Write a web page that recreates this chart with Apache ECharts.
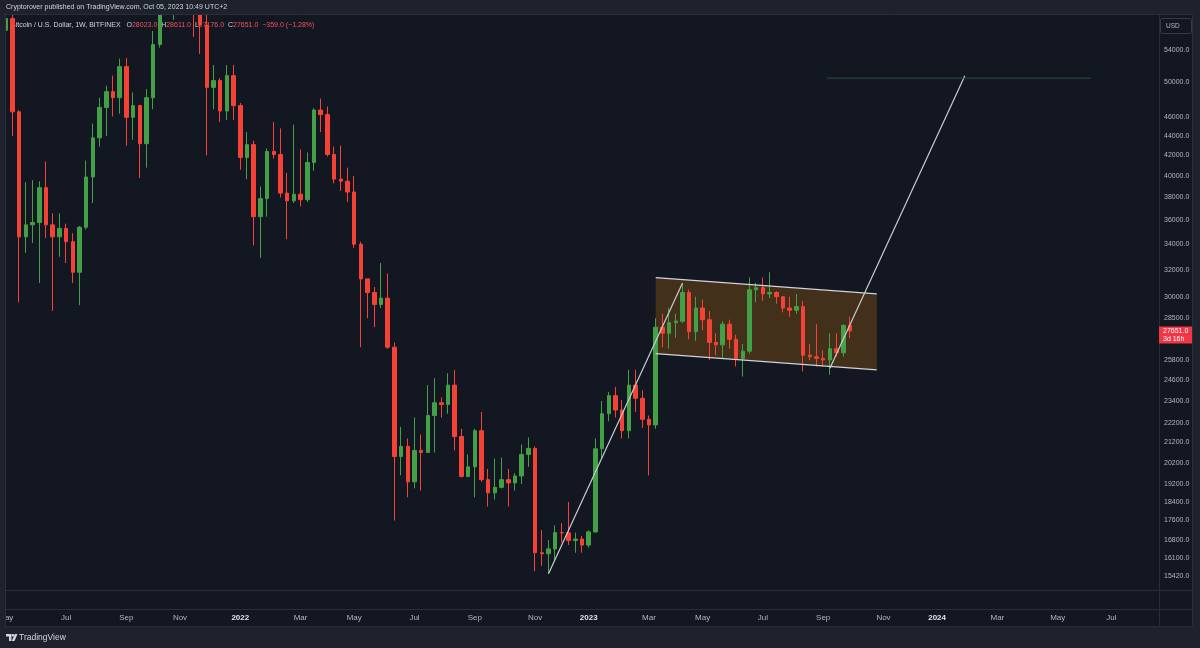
<!DOCTYPE html>
<html><head><meta charset="utf-8">
<script src="https://cdn.jsdelivr.net/npm/echarts@6/dist/echarts.min.js"></script>
<style>html,body{margin:0;padding:0;background:#1e222d;}#c{width:1200px;height:648px;}</style>
</head><body><div id="c"></div>
<script>
// ---- data (weekly candles, BITFINEX BTC/USD) ----
const weeks = [
 '2021-05-03','2021-05-10','2021-05-17','2021-05-24','2021-05-31','2021-06-07','2021-06-14','2021-06-21','2021-06-28','2021-07-05','2021-07-12','2021-07-19','2021-07-26','2021-08-02','2021-08-09','2021-08-16','2021-08-23','2021-08-30','2021-09-06','2021-09-13','2021-09-20','2021-09-27','2021-10-04','2021-10-11','2021-10-18','2021-10-25','2021-11-01','2021-11-08','2021-11-15','2021-11-22','2021-11-29','2021-12-06','2021-12-13','2021-12-20','2021-12-27',
 '2022-01-03','2022-01-10','2022-01-17','2022-01-24','2022-01-31','2022-02-07','2022-02-14','2022-02-21','2022-02-28','2022-03-07','2022-03-14','2022-03-21','2022-03-28','2022-04-04','2022-04-11','2022-04-18','2022-04-25','2022-05-02','2022-05-09','2022-05-16','2022-05-23','2022-05-30','2022-06-06','2022-06-13','2022-06-20','2022-06-27','2022-07-04','2022-07-11','2022-07-18','2022-07-25','2022-08-01','2022-08-08','2022-08-15','2022-08-22','2022-08-29','2022-09-05','2022-09-12','2022-09-19','2022-09-26','2022-10-03','2022-10-10','2022-10-17','2022-10-24','2022-10-31','2022-11-07','2022-11-14','2022-11-21','2022-11-28','2022-12-05','2022-12-12','2022-12-19','2022-12-26',
 '2023-01-02','2023-01-09','2023-01-16','2023-01-23','2023-01-30','2023-02-06','2023-02-13','2023-02-20','2023-02-27','2023-03-06','2023-03-13','2023-03-20','2023-03-27','2023-04-03','2023-04-10','2023-04-17','2023-04-24','2023-05-01','2023-05-08','2023-05-15','2023-05-22','2023-05-29','2023-06-05','2023-06-12','2023-06-19','2023-06-26','2023-07-03','2023-07-10','2023-07-17','2023-07-24','2023-07-31','2023-08-07','2023-08-14','2023-08-21','2023-08-28','2023-09-04','2023-09-11','2023-09-18','2023-09-25','2023-10-02'
];
const open = [
 56600,58200,46600,34600,35600,35800,38900,35600,34600,35300,34200,31800,35400,39900,43800,47100,48900,48200,51900,46000,47300,43200,48200,54700,61500,60900,61300,63300,65500,59000,57300,49400,50200,46700,50800,
 47300,41800,43100,36300,37900,42400,42100,38400,37700,38300,37800,41300,46800,46300,42100,39700,39500,38500,34000,31300,30300,29450,29900,26600,20500,21000,19300,20800,20700,22600,23300,23200,24300,21500,19550,20000,21800,19400,18800,19050,19400,19250,19570,20600,20900,16300,16260,16450,17100,17090,16780,16840,
 16600,17130,20880,22700,23700,22900,21800,24300,23550,22400,22100,27900,27500,28200,28300,30300,27600,29200,28400,26900,26750,28100,27100,25900,26350,30500,30650,30200,30300,30000,29200,29050,29300,26100,26000,25900,25800,26500,26250,28023
];
const high = [
 59500,59600,46800,39400,39600,39500,41400,36600,36600,35700,34900,35500,41500,45300,48200,49600,50800,52900,53000,48800,47400,49200,56500,62900,67000,63700,64300,69000,66400,59400,59200,52100,50500,52100,52100,
 47600,44400,43500,39000,42700,45500,44800,40300,45200,42600,42300,47000,48100,47200,42900,43000,40800,40000,34200,31300,30700,32500,31700,26900,22000,21400,22500,21600,24300,24700,23600,25000,25200,21900,20600,21900,22800,19900,20400,20450,19900,19700,21100,21450,21000,17200,16800,17400,17500,18400,17100,16970,
 17200,21400,23400,23900,24200,23450,25200,25200,24000,22600,28500,28800,29200,28800,31000,30500,30000,29800,29000,27500,28300,28400,27400,26800,31400,31000,31400,31800,30400,30000,30000,30200,29700,26800,28100,26400,27500,27500,28100,28611
];
const low = [
 53000,44000,29600,33300,34100,31000,34500,29000,33000,32500,31000,29400,35200,37500,42900,44000,46100,46400,43000,43600,39800,40800,46900,54300,59700,58000,59400,62300,55700,53500,42000,46900,45500,45700,45700,
 40600,39700,33900,32900,36300,41700,38000,34400,37500,37200,37600,40500,44400,41900,39300,38600,37600,33700,26600,28500,27900,29200,26500,17600,19600,18600,19000,18900,20700,20700,22500,22700,20800,19500,19500,18600,19300,18200,18500,19000,18200,18900,19200,20000,15600,15800,15500,16000,16700,16600,16300,16300,
 16500,17100,20400,22300,22500,21400,21400,22800,21950,19600,21900,26600,26500,27200,28200,27100,27000,27700,25800,26100,25900,26500,25400,24800,26200,29600,29700,29900,29500,28900,28600,28800,25100,25800,25400,25400,24900,26000,26000,27176
];
const close = [
 58200,46600,34600,35600,35800,38900,35600,34600,35300,34200,31800,35400,39900,43800,47100,48900,48200,51900,46000,47300,43200,48200,54700,61500,60900,61300,63300,65500,59000,57300,49400,50200,46700,50800,47300,
 41800,43100,36300,37900,42400,42100,38400,37700,38300,37800,41300,46800,46300,42100,39700,39500,38500,34000,31300,30300,29450,29900,26600,20500,21000,19300,20800,20700,22600,23300,23200,24300,21500,19550,20000,21800,19400,18800,19050,19400,19250,19570,20600,20900,16300,16260,16450,17100,17090,16780,16840,16600,
 17130,20880,22700,23700,22900,21800,24300,23550,22400,22100,27900,27500,28200,28300,30300,27600,29200,28400,26900,26750,28100,27100,25900,26350,30500,30650,30200,30300,30000,29200,29050,29300,26100,26000,25900,25800,26500,26250,28010,27651
];
const priceTicks = [54000,50000,46000,44000,42000,40000,38000,36000,34000,32000,30000,28500,25800,24600,23400,22200,21200,20200,19200,18400,17600,16800,16100,15420];
const timeTickDates = ['2021-05-03','2021-07-05','2021-09-06','2021-11-01','2022-01-03','2022-03-07','2022-05-02','2022-07-04','2022-09-05','2022-11-07','2023-01-02','2023-03-06','2023-05-01','2023-07-03','2023-09-04','2023-11-06','2024-01-01','2024-03-04','2024-05-06','2024-07-01'];
const timeTickLabels = ['May','Jul','Sep','Nov','2022','Mar','May','Jul','Sep','Nov','2023','Mar','May','Jul','Sep','Nov','2024','Mar','May','Jul'];
// drawings (date, price)
const trendA = [['2022-11-21',15500],['2023-04-10',31000]];
const trendB = [['2023-09-11',25300],['2024-01-30',50800]];
const targetLine = [['2023-09-08',50500],['2024-06-10',50500]];
const channelTop = [['2023-03-13',31400],['2023-10-30',30200]];
const channelBottom = [['2023-03-13',26200],['2023-10-30',25200]];
const countdown = '3d 16h';

// ---- chart ----
const FONT = "'Liberation Sans',Arial,sans-serif";
const ts = s => Date.parse(s + 'T00:00:00Z');
const WEEK = 7 * 86400000;
const anchor = ts('2021-05-10');
const xMin = anchor - 1.1194 * WEEK, xMax = anchor + 171.269 * WEEK;
const yMin = 14915, yMax = 58836;
const UP = '#43a047', DOWN = '#f44336';
const labelMap = {};
timeTickDates.forEach((d, i) => labelMap[ts(d)] = timeTickLabels[i]);
const candles = weeks.map((d, i) => [ts(d), open[i], close[i], low[i], high[i]]);
const toXY = arr => arr.map(p => [ts(p[0]), p[1]]);
const lineSeries = (arr, color, w) => ({
  type: 'line', data: toXY(arr), symbol: 'none', silent: true, z: 4,
  lineStyle: { color: color, width: w }, animation: false
});

const chart = echarts.init(document.getElementById('c'), null, { renderer: 'canvas' });
const option = {
  backgroundColor: '#1e222d',
  animation: false,
  grid: { left: 5, right: 40, top: 14, bottom: 58, containLabel: false, outerBoundsMode: 'none' },
  xAxis: {
    type: 'value', min: xMin, max: xMax, scale: true,
    axisLine: { show: false }, axisTick: { show: false }, splitLine: { show: false },
    axisLabel: {
      customValues: timeTickDates.map(ts),
      formatter: v => { const l = labelMap[v]; if (!l) return ''; return /^\d{4}$/.test(l) ? '{y|' + l + '}' : l; },
      color: '#b2b5be', fontSize: 8, fontFamily: FONT, margin: 24,
      rich: { y: { color: '#e0e3eb', fontSize: 8, fontWeight: 'bold', fontFamily: FONT } }
    }
  },
  yAxis: {
    type: 'log', logBase: 10, min: yMin, max: yMax, position: 'right',
    axisLine: { show: false }, axisTick: { show: false }, splitLine: { show: false }, axisLabel: { show: false }
  },
  series: [
    {
      type: 'custom', z: 1, silent: true,
      data: [[ts(channelTop[0][0]), channelTop[0][1]]],
      renderItem: (params, api) => {
        const pts = [
          api.coord([ts(channelTop[0][0]), channelTop[0][1]]),
          api.coord([ts(channelTop[1][0]), channelTop[1][1]]),
          api.coord([ts(channelBottom[1][0]), channelBottom[1][1]]),
          api.coord([ts(channelBottom[0][0]), channelBottom[0][1]])
        ];
        return { type: 'polygon', shape: { points: pts }, style: { fill: 'rgba(255,152,0,0.2)' } };
      }
    },
    {
      type: 'candlestick', z: 3, data: candles, barWidth: 4,
      itemStyle: { color: UP, color0: DOWN, borderColor: UP, borderColor0: DOWN, borderWidth: 1 },
      markLine: {
        silent: true, symbol: ['none', 'none'], animation: false,
        lineStyle: { color: 'rgba(0,0,0,0)', width: 1, type: 'solid' },
        label: { show: true, position: 'end', distance: 4, color: '#b2b5be', fontSize: 7, fontFamily: FONT,
                 formatter: p => Number(p.value).toFixed(1) },
        emphasis: { disabled: true },
        data: priceTicks.map(v => ({ yAxis: v }))
      }
    },
    lineSeries(channelTop, '#d1d4dc', 1.2),
    lineSeries(channelBottom, '#d1d4dc', 1.2),
    lineSeries(trendA, '#c9ccd3', 1.2),
    lineSeries(trendB, '#c9ccd3', 1.2),
    lineSeries(targetLine, '#24503f', 1)
  ]
};
chart.setOption(option);

// legend values from the last candle
const n = close.length;
const last = { o: open[n - 1], h: high[n - 1], l: low[n - 1], c: close[n - 1] };
const chg = last.c - close[n - 2];
const pct = chg / close[n - 2] * 100;
const sgn = v => (v < 0 ? '\u2212' : '+');
const py = chart.convertToPixel({ yAxisIndex: 0 }, last.c);
const lc = '#b2b5be';
const gl = '#2a2e39';
const F7 = '7px ' + FONT;
chart.setOption({
  graphic: { elements: [
    { type: 'rect', z: -10, shape: { x: 5, y: 14, width: 1188, height: 613 }, style: { fill: '#131722' } },
    { type: 'line', z: -9, shape: { x1: 1159.5, y1: 14, x2: 1159.5, y2: 627 }, style: { stroke: gl, lineWidth: 1 } },
    { type: 'line', z: -9, shape: { x1: 5, y1: 590.5, x2: 1193, y2: 590.5 }, style: { stroke: gl, lineWidth: 1 } },
    { type: 'line', z: -9, shape: { x1: 5, y1: 609.5, x2: 1193, y2: 609.5 }, style: { stroke: gl, lineWidth: 1 } },
    { type: 'text', z: -8, x: 11, y: 25, style: {
        text: '{t|Bitcoin / U.S. Dollar, 1W, BITFINEX}   {k|O}{v|' + last.o.toFixed(1) + '}  {k|H}{v|' + last.h.toFixed(1) + '}  {k|L}{v|' + last.l.toFixed(1) + '}  {k|C}{v|' + last.c.toFixed(1) + '}  {v|' + sgn(chg) + Math.abs(chg).toFixed(1) + ' (' + sgn(pct) + Math.abs(pct).toFixed(2) + '%)}',
        verticalAlign: 'middle', font: F7,
        rich: { t: { fill: '#d1d4dc', font: F7 }, k: { fill: '#d1d4dc', font: F7 }, v: { fill: '#f7525f', font: F7 } }
    } },
    // covers: header strip and left margin sit above the candles
    { type: 'rect', z: 30, shape: { x: 0, y: 0, width: 1200, height: 14 }, style: { fill: '#1e222d' } },
    { type: 'rect', z: 30, shape: { x: 0, y: 14, width: 5, height: 613 }, style: { fill: '#1e222d' } },
    { type: 'rect', z: 31, shape: { x: 5.5, y: 14.5, width: 1187, height: 612 }, style: { fill: 'none', stroke: gl, lineWidth: 1 } },
    { type: 'text', z: 32, x: 6, y: 7.5, style: { text: 'Cryptorover published on TradingView.com, Oct 05, 2023 10:49 UTC+2', fill: '#d1d4dc', font: F7, verticalAlign: 'middle' } },
    { type: 'rect', z: -8, shape: { x: 1160.5, y: 18.5, width: 31, height: 15, r: 1 }, style: { fill: 'none', stroke: '#363a45', lineWidth: 1 } },
    { type: 'text', z: -8, x: 1166, y: 26, style: { text: 'USD', fill: lc, font: '6.5px ' + FONT, verticalAlign: 'middle' } },
    { type: 'rect', z: 20, shape: { x: 1159, y: py - 4.5, width: 33, height: 17 }, style: { fill: '#f23645' } },
    { type: 'text', z: 21, x: 1163, y: py, style: { text: last.c.toFixed(1), fill: '#ffffff', font: F7, verticalAlign: 'middle' } },
    { type: 'text', z: 21, x: 1163, y: py + 8, style: { text: countdown, fill: '#ffffff', font: F7, verticalAlign: 'middle' } },
    { type: 'polygon', z: -8, shape: { points: [[6,634],[11.5,634],[11.5,641],[9,641],[9,636.5],[6,636.5]] }, style: { fill: '#d1d4dc' } },
    { type: 'circle', z: -8, shape: { cx: 13, cy: 635.3, r: 1.3 }, style: { fill: '#d1d4dc' } },
    { type: 'polygon', z: -8, shape: { points: [[14.8,634],[17.5,634],[14.5,641],[11.8,641]] }, style: { fill: '#d1d4dc' } },
    { type: 'text', z: -8, x: 19, y: 638, style: { text: 'TradingView', fill: '#d1d4dc', font: '8.5px ' + FONT, verticalAlign: 'middle' } }
  ] }
});
</script></body></html>
